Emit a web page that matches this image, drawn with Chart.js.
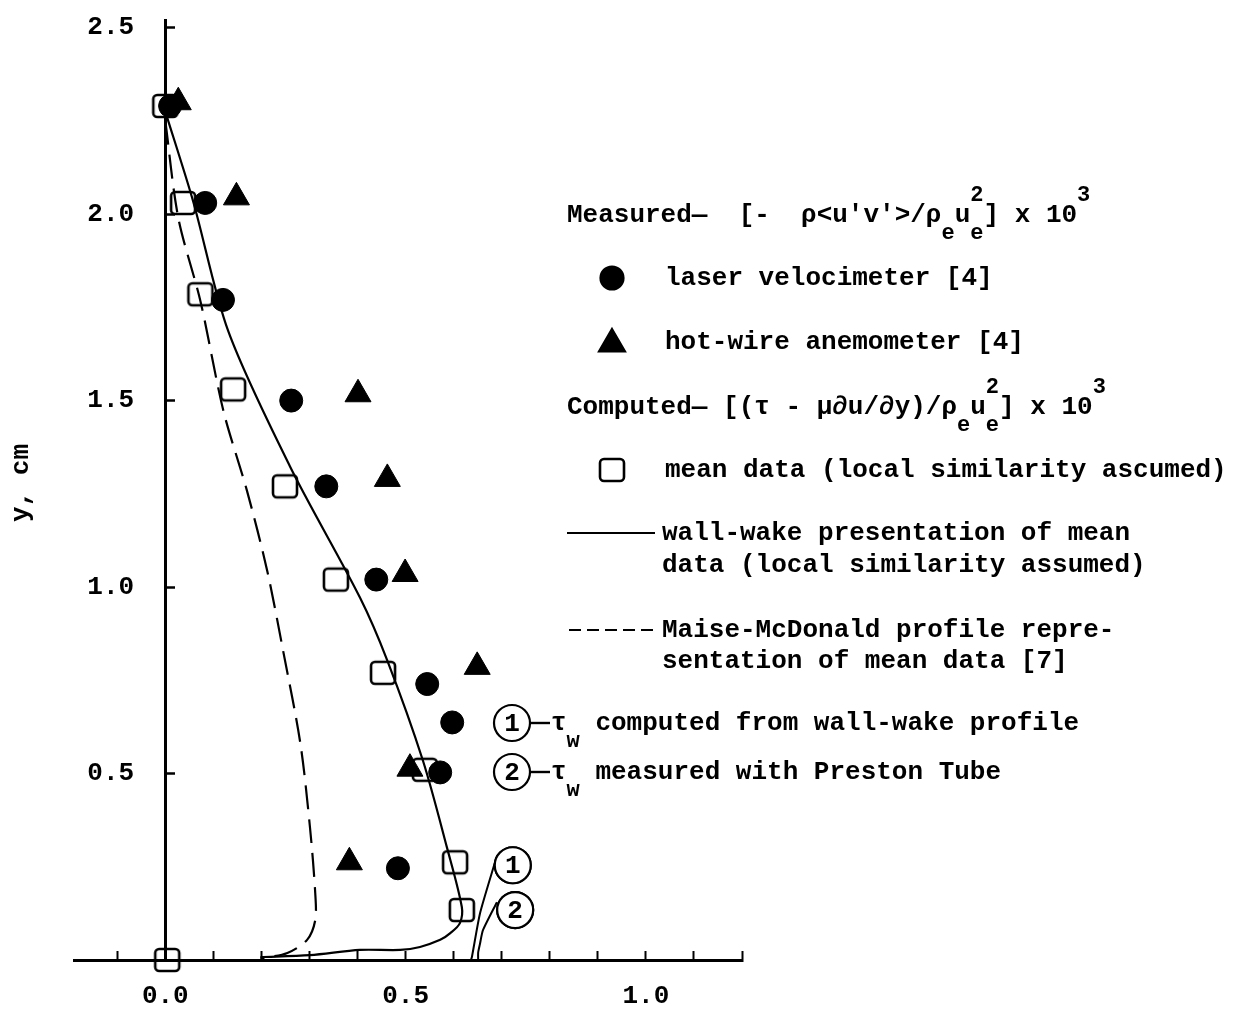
<!DOCTYPE html>
<html>
<head>
<meta charset="utf-8">
<script src="https://cdn.jsdelivr.net/npm/chart.js@4.4.1/dist/chart.umd.min.js"></script>
<style>
  html, body { margin: 0; padding: 0; background: #fff; }
  #wrap { width: 1249px; height: 1011px; position: relative; }
</style>
</head>
<body>
<div id="wrap"><canvas id="c" width="1249" height="1011"></canvas></div>
<script>
// shear-stress profile: measured points vs computed profiles

const FONT = '"Liberation Mono", "DejaVu Sans Mono", monospace';

// axis ranges and ticks
const X_MIN = -0.19, X_MAX = 1.2, Y_MIN = 0, Y_MAX = 2.52;
const X_TICKS = [-0.1, 0.0, 0.1, 0.2, 0.3, 0.4, 0.5, 0.6, 0.7, 0.8, 0.9, 1.0, 1.1, 1.2];
const X_LABELED = [0.0, 0.5, 1.0];
const Y_TICKS = [0.5, 1.0, 1.5, 2.0, 2.5];

// mean data (local similarity assumed) - squares
const meanX = [0.0, 0.037, 0.073, 0.141, 0.249, 0.355, 0.453, 0.54, 0.603, 0.617, 0.004];
const meanY = [2.29, 2.03, 1.785, 1.53, 1.27, 1.02, 0.77, 0.51, 0.262, 0.134, 0.0];

// laser velocimeter - filled circles
const laserX = [0.01, 0.083, 0.12, 0.262, 0.335, 0.439, 0.545, 0.597, 0.572, 0.484];
const laserY = [2.29, 2.03, 1.77, 1.50, 1.27, 1.02, 0.74, 0.637, 0.503, 0.246];

// hot-wire anemometer - filled triangles
const wireX = [0.027, 0.148, 0.401, 0.462, 0.499, 0.649, 0.509, 0.383];
const wireY = [2.30, 2.045, 1.517, 1.29, 1.035, 0.786, 0.513, 0.262];

// wall-wake presentation (solid)
const wakeX = [0.0, 0.058, 0.131, 0.26, 0.405, 0.462, 0.536, 0.586, 0.617, 0.613, 0.593, 0.572, 0.53, 0.489, 0.405, 0.301, 0.198];
const wakeY = [2.275, 2.034, 1.686, 1.322, 0.972, 0.803, 0.535, 0.302, 0.142, 0.099, 0.072, 0.054, 0.035, 0.027, 0.027, 0.013, 0.008];

// Maise-McDonald profile (dashed)
const maiseX = [0.0, 0.027, 0.073, 0.121, 0.170, 0.212, 0.245, 0.281, 0.301, 0.312, 0.312, 0.295, 0.254, 0.198];
const maiseY = [2.25, 1.99, 1.767, 1.472, 1.258, 1.044, 0.830, 0.581, 0.356, 0.179, 0.107, 0.054, 0.019, 0.004];

// tau_w markers (circled numbers) and their leader lines to the axis
const tauLabels = ['1', '2'];
const tauX = [0.723, 0.728];
const tauY = [0.254, 0.134];
const lead1X = [0.686, 0.655, 0.638, 0.636];
const lead1Y = [0.262, 0.126, 0.008, 0.0];
const lead2X = [0.69, 0.661, 0.655, 0.651, 0.651];
const lead2Y = [0.155, 0.08, 0.045, 0.02, 0.0];

const pts = (xs, ys) => xs.map((x, i) => ({ x: x, y: ys[i] }));

function makeSquare(){
    const c = document.createElement('canvas');
    c.width = 30; c.height = 28;
    const g = c.getContext('2d');
    const x = 3, y = 3, w = 24, h = 22, r = 4;
    g.beginPath();
    g.moveTo(x + r, y); g.lineTo(x + w - r, y); g.arcTo(x + w, y, x + w, y + r, r);
    g.lineTo(x + w, y + h - r); g.arcTo(x + w, y + h, x + w - r, y + h, r);
    g.lineTo(x + r, y + h); g.arcTo(x, y + h, x, y + h - r, r);
    g.lineTo(x, y + r); g.arcTo(x, y, x + r, y, r);
    g.closePath();
    g.lineWidth = 2.6; g.strokeStyle = '#000'; g.stroke();
    return c;
}
const SQUARE = makeSquare();

// draws text pieces with subscripts / superscripts in one row
function rich(ctx, x, y, parts){
    ctx.textAlign = 'left'; ctx.textBaseline = 'middle'; ctx.fillStyle = '#000';
    const F = 'bold 26px ' + FONT, FS = 'bold 22px ' + FONT;
    parts.forEach(([t, m]) => {
        if(!m){ ctx.font = F; ctx.fillText(t, x, y); x += ctx.measureText(t).width; }
        else if(m === 'sub'){ ctx.font = FS; ctx.fillText(t, x, y + 18); x += ctx.measureText(t).width; }
        else if(m === 'sup'){ ctx.font = FS; ctx.fillText(t, x, y - 20); x += ctx.measureText(t).width; }
        else { ctx.font = FS; ctx.fillText(t[0], x, y - 20); ctx.fillText(t[1], x, y + 18); x += Math.max(ctx.measureText(t[0]).width, ctx.measureText(t[1]).width); }
    });
    return x;
}

function circledNum(ctx, x, y, t){
    ctx.save();
    ctx.beginPath(); ctx.arc(x, y, 18, 0, Math.PI * 2);
    ctx.fillStyle = '#fff'; ctx.fill();
    ctx.lineWidth = 2.2; ctx.strokeStyle = '#000'; ctx.stroke();
    ctx.fillStyle = '#000'; ctx.font = 'bold 26px ' + FONT;
    ctx.textAlign = 'center'; ctx.textBaseline = 'middle';
    ctx.fillText(t, x, y + 1);
    ctx.restore();
}

const figurePlugin = {
    id: 'figure',
    afterDatasetsDraw(chart){
        // numbers inside the circled tau markers
        const meta = chart.getDatasetMeta(chart.data.datasets.findIndex(d => d.id === 'tau'));
        const ctx = chart.ctx;
        meta.data.forEach((p, i) => circledNum(ctx, p.x, p.y, tauLabels[i]));
    },
    afterDraw(chart){
        const ctx = chart.ctx;
        ctx.save();
        // y axis title
        ctx.save();
        ctx.translate(21, 483); ctx.rotate(-Math.PI / 2);
        ctx.font = 'bold 26px ' + FONT; ctx.fillStyle = '#000';
        ctx.textAlign = 'center'; ctx.textBaseline = 'middle';
        ctx.fillText('y, cm', 0, 0);
        ctx.restore();

        const H = Chart.helpers;
        rich(ctx, 567, 215, [["Measured\u2014  [-  \u03c1<u'v'>/\u03c1"], ['e', 'sub'], ['u'], [['2', 'e'], 'ss'], ['] x 10'], ['3', 'sup']]);
        H.drawPoint(ctx, { pointStyle: 'circle', radius: 11.5, borderWidth: 1 }, 612, 278);
        ctx.fillStyle = '#000'; ctx.fill();
        rich(ctx, 665, 278, [['laser velocimeter [4]']]);
        ctx.fillStyle = '#000'; ctx.strokeStyle = '#000';
        H.drawPoint(ctx, { pointStyle: 'triangle', radius: 15, borderWidth: 1 }, 612, 344);
        ctx.fill();
        rich(ctx, 665, 342, [['hot-wire anemometer [4]']]);
        rich(ctx, 567, 407, [['Computed\u2014 [(\u03c4 - \u03bc\u2202u/\u2202y)/\u03c1'], ['e', 'sub'], ['u'], [['2', 'e'], 'ss'], ['] x 10'], ['3', 'sup']]);
        ctx.drawImage(SQUARE, 612 - SQUARE.width / 2, 470 - SQUARE.height / 2);
        rich(ctx, 665, 470, [['mean data (local similarity ascumed)']]);

        ctx.strokeStyle = '#000'; ctx.lineWidth = 2.2;
        ctx.beginPath(); ctx.moveTo(567, 533); ctx.lineTo(655, 533); ctx.stroke();
        rich(ctx, 662, 533, [['wall-wake presentation of mean']]);
        rich(ctx, 662, 565, [['data (local similarity assumed)']]);
        ctx.setLineDash([12, 6]);
        ctx.beginPath(); ctx.moveTo(569, 630); ctx.lineTo(655, 630); ctx.stroke();
        ctx.setLineDash([]);
        rich(ctx, 662, 630, [['Maise-McDonald profile repre-']]);
        rich(ctx, 662, 661, [['sentation of mean data [7]']]);

        circledNum(ctx, 512, 723, '1');
        circledNum(ctx, 512, 772, '2');
        ctx.lineWidth = 2.4;
        [723, 772].forEach(y => { ctx.beginPath(); ctx.moveTo(530, y); ctx.lineTo(550, y); ctx.stroke(); });
        rich(ctx, 551, 723, [['\u03c4'], ['w', 'sub'], [' computed from wall-wake profile']]);
        rich(ctx, 551, 772, [['\u03c4'], ['w', 'sub'], [' measured with Preston Tube']]);
        ctx.restore();
    }
};

const lineBase = { showLine: true, pointRadius: 0, borderColor: '#000', fill: false, clip: false };

new Chart(document.getElementById('c'), {
    type: 'scatter',
    data: {
        datasets: [
            { id: 'tau', data: pts(tauX, tauY), pointStyle: 'circle', pointRadius: 18, backgroundColor: '#fff', borderColor: '#000', borderWidth: 2.2, order: 0, clip: false },
            Object.assign({ id: 'wake', data: pts(wakeX, wakeY), borderWidth: 2.2, tension: 0.3, order: 1 }, lineBase),
            Object.assign({ id: 'maise', data: pts(maiseX, maiseY), borderWidth: 2.2, borderDash: [24, 10], tension: 0.3, order: 1 }, lineBase),
            Object.assign({ id: 'lead1', data: pts(lead1X, lead1Y), borderWidth: 2, tension: 0.2, order: 1 }, lineBase),
            Object.assign({ id: 'lead2', data: pts(lead2X, lead2Y), borderWidth: 2, tension: 0.2, order: 1 }, lineBase),
            { id: 'laser', data: pts(laserX, laserY), pointStyle: 'circle', pointRadius: 11.5, backgroundColor: '#000', borderColor: '#000', borderWidth: 1, order: 2, clip: false },
            { id: 'wire', data: pts(wireX, wireY), pointStyle: 'triangle', pointRadius: 15, backgroundColor: '#000', borderColor: '#000', borderWidth: 1, order: 2, clip: false },
            { id: 'mean', data: pts(meanX, meanY), pointStyle: SQUARE, order: 3, clip: false }
        ]
    },
    options: {
        responsive: false,
        animation: false,
        layout: { padding: { left: 74, right: 507, top: 13, bottom: 0 } },
        plugins: { legend: { display: false }, tooltip: { enabled: false } },
        scales: {
            x: {
                type: 'linear', min: X_MIN, max: X_MAX, position: 'bottom',
                afterBuildTicks: s => { s.ticks = X_TICKS.map(v => ({ value: v })); },
                afterFit: s => { s.height = 51; },
                ticks: {
                    autoSkip: false, maxRotation: 0, padding: 30, color: '#000',
                    font: { family: FONT, size: 26, weight: 'bold' },
                    callback: v => X_LABELED.some(l => Math.abs(l - v) < 1e-6) ? v.toFixed(1) : ''
                },
                grid: { drawOnChartArea: false, drawTicks: true, tickLength: -9, tickWidth: 2, color: '#000' },
                border: { display: true, color: '#000', width: 3 }
            },
            y: {
                type: 'linear', min: Y_MIN, max: Y_MAX, position: { x: 0 },
                afterBuildTicks: s => { s.ticks = Y_TICKS.map(v => ({ value: v })); },
                ticks: {
                    autoSkip: false, padding: 0, color: '#000',
                    font: { family: FONT, size: 26, weight: 'bold', lineHeight: 1.0 },
                    // labels sit left of the axis at x = 0; two trailing spaces keep the gap
                    callback: v => v.toFixed(1) + '  '
                },
                grid: { drawOnChartArea: false, drawTicks: true, tickLength: -11, tickWidth: 2.5, color: '#000' },
                border: { display: true, color: '#000', width: 3 }
            }
        }
    },
    plugins: [figurePlugin]
});
</script>
</body>
</html>
